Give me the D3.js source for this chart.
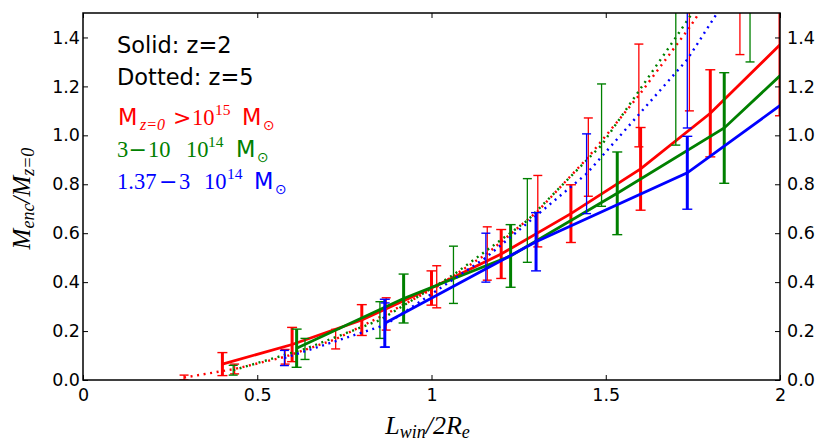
<!DOCTYPE html>
<html><head><meta charset="utf-8">
<script src="https://cdn.jsdelivr.net/npm/d3@7"></script>
<style>body{margin:0;background:#fff}svg{display:block}</style>
</head><body>
<svg id="c" width="830" height="445"></svg>
<script>
// ---- data ----
const xTicks = [0, 0.5, 1, 1.5, 2];
const xTickLabels = ["0", "0.5", "1", "1.5", "2"];
const yTicks = [0, 0.2, 0.4, 0.6, 0.8, 1.0, 1.2, 1.4];
const yTickLabels = ["0.0", "0.2", "0.4", "0.6", "0.8", "1.0", "1.2", "1.4"];

// z=2 (solid)
const redZ2X   = [0.4, 0.6, 0.8, 1.0, 1.2, 1.4, 1.6, 1.8, 2.0];
const redZ2Y   = [0.065, 0.145, 0.245, 0.376, 0.515, 0.68, 0.863, 1.09, 1.37];
const redZ2Err = [0.047, 0.07, 0.063, 0.07, 0.1, 0.118, 0.169, 0.178, 0.29];

const greenZ2X   = [0.613, 0.92, 1.227, 1.533, 1.84, 2.147];
const greenZ2Y   = [0.13, 0.333, 0.507, 0.763, 1.03, 1.44];
const greenZ2Err = [0.078, 0.1, 0.128, 0.169, 0.226, 0.3];

const blueZ2X   = [0.866, 1.3, 1.734, 2.168];
const blueZ2Y   = [0.232, 0.565, 0.847, 1.295];
const blueZ2Err = [0.098, 0.119, 0.149, 0.2];

// z=5 (dotted)
const redZ5X   = [0.29, 0.435, 0.58, 0.725, 0.87, 1.015, 1.16, 1.305, 1.45, 1.595, 1.74, 1.885];
const redZ5Y   = [0.01, 0.045, 0.095, 0.167, 0.27, 0.381, 0.517, 0.69, 0.911, 1.163, 1.44, 1.75];
const redZ5Err = [0.01, 0.02, 0.03, 0.04, 0.066, 0.086, 0.109, 0.146, 0.16, 0.21, 0.34, 0.42];

const greenZ5X   = [0.431, 0.637, 0.852, 1.063, 1.275, 1.488, 1.701, 1.914];
const greenZ5Y   = [0.04, 0.127, 0.245, 0.43, 0.652, 0.96, 1.40, 1.85];
const greenZ5Err = [0.02, 0.043, 0.075, 0.117, 0.171, 0.25, 0.44, 0.55];

const blueZ5X   = [0.578, 0.867, 1.156, 1.445, 1.734, 2.023];
const blueZ5Y   = [0.09, 0.225, 0.5, 0.843, 1.31, 1.95];
const blueZ5Err = [0.031, 0.09, 0.1, 0.163, 0.28, 0.4];

const colors = {red: "#ff0000", green: "#008000", blue: "#0000ff"};

// ---- chart ----
const L = 83, R = 780, T = 13, B = 380;
const svg = d3.select("#c");
const x = d3.scaleLinear().domain([0, 2]).range([L, R]);
const y = d3.scaleLinear().domain([0, 1.5]).range([B, T]);

svg.append("defs").append("clipPath").attr("id", "clip")
  .append("rect").attr("x", L).attr("y", T).attr("width", R - L).attr("height", B - T);

const plot = svg.append("g").attr("clip-path", "url(#clip)");

function series(xs, ys, es, color, dotted) {
  const pts = xs.map((d, i) => ({x: d, y: ys[i], e: es[i]}));
  const line = d3.line().x(d => x(d.x)).y(d => y(d.y));
  plot.append("path").datum(pts).attr("d", line)
    .attr("fill", "none").attr("stroke", color)
    .attr("stroke-width", dotted ? 2.4 : 2.8)
    .attr("stroke-dasharray", dotted ? "2,4.6" : null)
    .attr("stroke-linecap", "butt");
  const g = plot.append("g");
  const bw = dotted ? 1.3 : 3;
  const cap = dotted ? 4.5 : 5;
  pts.forEach(p => {
    g.append("line").attr("x1", x(p.x)).attr("x2", x(p.x))
      .attr("y1", y(p.y - p.e)).attr("y2", y(p.y + p.e))
      .attr("stroke", color).attr("stroke-width", bw);
    [p.y - p.e, p.y + p.e].forEach(v => {
      g.append("line").attr("x1", x(p.x) - cap).attr("x2", x(p.x) + cap)
        .attr("y1", y(v)).attr("y2", y(v))
        .attr("stroke", color).attr("stroke-width", 1.4);
    });
  });
}

series(redZ2X, redZ2Y, redZ2Err, colors.red, false);
series(redZ5X, redZ5Y, redZ5Err, colors.red, true);
series(greenZ2X, greenZ2Y, greenZ2Err, colors.green, false);
series(greenZ5X, greenZ5Y, greenZ5Err, colors.green, true);
series(blueZ2X, blueZ2Y, blueZ2Err, colors.blue, false);
series(blueZ5X, blueZ5Y, blueZ5Err, colors.blue, true);

// axes
const tickFont = "'DejaVu Sans', sans-serif";
function styleAxis(g) {
  g.select(".domain").remove();
  g.selectAll(".tick line").attr("stroke", "#000").attr("stroke-width", 1);
  g.selectAll(".tick text").attr("font-family", tickFont).attr("font-size", 17.5).attr("fill", "#000");
}
svg.append("g").attr("transform", `translate(0,${B})`)
  .call(d3.axisBottom(x).tickValues(xTicks).tickFormat((d, i) => xTickLabels[i]).tickSizeInner(-5).tickSizeOuter(0).tickPadding(9))
  .call(styleAxis);
svg.append("g").attr("transform", `translate(0,${T})`)
  .call(d3.axisTop(x).tickValues(xTicks).tickFormat("").tickSizeInner(-5).tickSizeOuter(0))
  .call(styleAxis);
svg.append("g").attr("transform", `translate(${L},0)`)
  .call(d3.axisLeft(y).tickValues(yTicks).tickFormat((d, i) => yTickLabels[i]).tickSizeInner(-5).tickSizeOuter(0).tickPadding(3))
  .call(styleAxis);
svg.append("g").attr("transform", `translate(${R},0)`)
  .call(d3.axisRight(y).tickValues(yTicks).tickFormat((d, i) => yTickLabels[i]).tickSizeInner(-5).tickSizeOuter(0).tickPadding(7))
  .call(styleAxis);

svg.append("rect").attr("x", L).attr("y", T).attr("width", R - L).attr("height", B - T)
  .attr("fill", "none").attr("stroke", "#000").attr("stroke-width", 1.5);

// axis labels
const serif = "'Liberation Serif', 'Times New Roman', serif";
const xl = svg.append("text").attr("x", (L + R) / 2 - 4).attr("y", 434)
  .attr("text-anchor", "middle").attr("font-family", serif).attr("font-style", "italic").attr("font-size", 26);
xl.append("tspan").text("L");
xl.append("tspan").attr("dy", 4).attr("font-size", 18).text("win");
xl.append("tspan").attr("dy", -4).text("/2R");
xl.append("tspan").attr("dy", 4).attr("font-size", 18).text("e");

const yl = svg.append("text").attr("transform", `translate(30,${(T + B) / 2 + 2}) rotate(-90)`)
  .attr("text-anchor", "middle").attr("font-family", serif).attr("font-style", "italic").attr("font-size", 25);
yl.append("tspan").text("M");
yl.append("tspan").attr("dy", 4).attr("font-size", 18).text("enc");
yl.append("tspan").attr("dy", -4).text("/M");
yl.append("tspan").attr("dy", 4).attr("font-size", 18).text("z=0");

// legend text
const sans = "'DejaVu Sans', sans-serif";
function t(xp, yp, str, opts) {
  const o = Object.assign({fam: sans, size: 22.5, color: "#000", style: "normal"}, opts || {});
  svg.append("text").attr("x", xp).attr("y", yp).attr("font-family", o.fam)
    .attr("font-size", o.size).attr("fill", o.color).attr("font-style", o.style).text(str);
}
t(117, 53, "Solid: z=2");
t(117, 85, "Dotted: z=5");

// red
t(118, 125, "M", {color: colors.red});
t(140, 130, "z=0", {fam: serif, style: "italic", size: 16, color: colors.red});
t(173, 125, ">", {fam: sans, size: 22, color: colors.red});
t(192, 125, "10", {fam: serif, size: 22.5, color: colors.red});
t(215, 115, "15", {fam: serif, size: 15.5, color: colors.red});
t(242, 125, "M", {color: colors.red});
t(263, 130, "\u2299", {size: 14, color: colors.red});
// green
t(117, 157, "3", {fam: serif, size: 22.5, color: colors.green});
t(128.5, 157, "\u2212", {fam: sans, size: 22, color: colors.green});
t(148, 157, "10", {fam: serif, size: 22.5, color: colors.green});
t(186, 157, "10", {fam: serif, size: 22.5, color: colors.green});
t(208, 147, "14", {fam: serif, size: 15.5, color: colors.green});
t(236, 157, "M", {color: colors.green});
t(257, 162, "\u2299", {size: 14, color: colors.green});
// blue
t(117, 188.5, "1.37", {fam: serif, size: 22.5, color: colors.blue});
t(159, 188.5, "\u2212", {fam: sans, size: 22, color: colors.blue});
t(179, 188.5, "3", {fam: serif, size: 22.5, color: colors.blue});
t(204, 188.5, "10", {fam: serif, size: 22.5, color: colors.blue});
t(227, 178.5, "14", {fam: serif, size: 15.5, color: colors.blue});
t(254, 188.5, "M", {color: colors.blue});
t(275, 194, "\u2299", {size: 14, color: colors.blue});
</script>
</body></html>
